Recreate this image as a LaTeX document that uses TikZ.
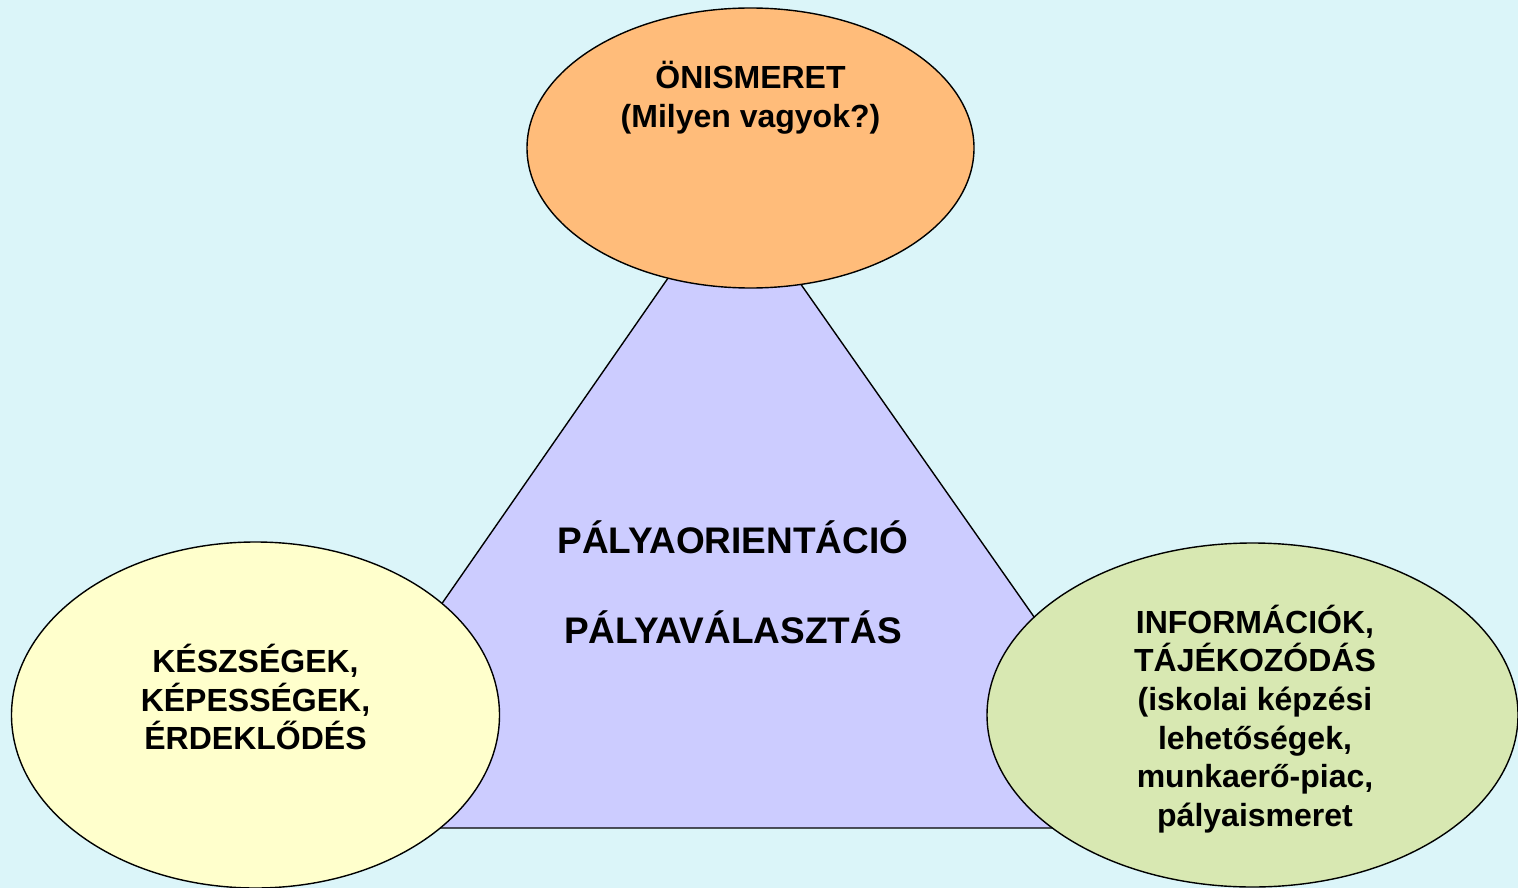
\documentclass[tikz,border=0pt]{standalone}
\usepackage{fontspec}
\setmainfont{Liberation Sans}
\usetikzlibrary{shapes.geometric}
\definecolor{bgcol}{RGB}{219,245,249}
\definecolor{orangecol}{RGB}{255,188,122}
\definecolor{yellowcol}{RGB}{255,255,204}
\definecolor{greencol}{RGB}{216,232,178}
\definecolor{lavcol}{RGB}{204,204,255}
\tikzset{
  bubble/.style={ellipse, draw=black, line width=1.4pt, inner sep=0pt},
  label32/.style={align=center, font=\fontsize{32}{38.6}\selectfont\bfseries, inner sep=0pt},
  label36/.style={align=center, font=\fontsize{37}{43}\selectfont\bfseries, inner sep=0pt},
}
\begin{document}
\begin{tikzpicture}[x=1pt,y=-1pt]
\fill[bgcol] (0,0) rectangle (1518,888);
\useasboundingbox (0,0) rectangle (1518,888);
% triangle
\coordinate (apex) at (732,186);
\coordinate (bl) at (286,828);
\coordinate (br) at (1182,828);
\filldraw[fill=lavcol, draw=black, line width=1.4pt] (apex) -- (br) -- (bl) -- cycle;
% ellipses
\node[bubble, fill=orangecol, minimum width=447pt, minimum height=280pt] (top) at (750.5,148) {};
\node[bubble, fill=yellowcol, minimum width=488pt, minimum height=346pt] (left) at (255.5,715) {};
\node[bubble, fill=greencol, minimum width=531pt, minimum height=344pt] (right) at (1252.5,715) {};
% texts
\node[label32] (toptext) at (750.5,98) {ÖNISMERET\\(Milyen vagyok?)};
\node[label32] (lefttext) at (255.5,697) {KÉSZSÉGEK,\\KÉPESSÉGEK,\\ÉRDEKLŐDÉS};
\node[label32] (righttext) at (1255,719) {INFORMÁCIÓK,\\TÁJÉKOZÓDÁS\\(iskolai képzési\\lehetőségek,\\munkaerő-piac,\\pályaismeret};
\node[label36] (center1) at (733,537) {PÁLYAORIENTÁCIÓ};
\node[label36] (center2) at (733,627) {PÁLYAVÁLASZTÁS};
\end{tikzpicture}
\end{document}
